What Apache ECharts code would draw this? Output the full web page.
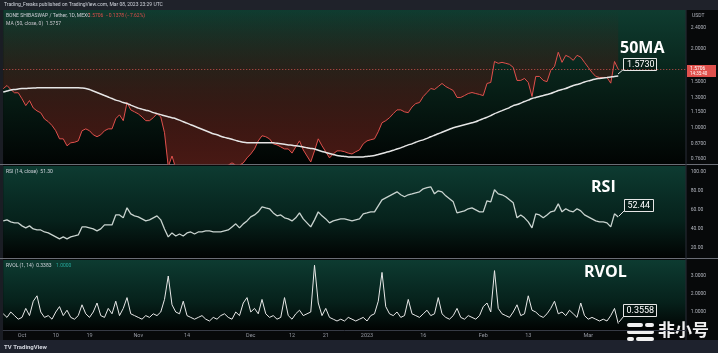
<!DOCTYPE html>
<html><head><meta charset="utf-8">
<script src="https://cdn.jsdelivr.net/npm/echarts@6/dist/echarts.min.js"></script>
<style>html,body{margin:0;padding:0;background:#07090a;}#c{width:718px;height:353px;}</style>
</head><body><div id="c"></div>
<script>
// ---- data ----
const startDate = '2022-09-26';
const dayCount = 183;           // axis runs to late March, data stops at the last bar
const dateLabels = {'2022-10-01':'Oct','2022-10-10':'10','2022-10-19':'19','2022-11-01':'Nov','2022-11-14':'14',
  '2022-12-01':'Dec','2022-12-12':'12','2022-12-21':'21','2023-01-01':'2023','2023-01-16':'16',
  '2023-02-01':'Feb','2023-02-13':'13','2023-03-01':'Mar'};
const price = [1.41,1.45,1.40,1.36,1.36,1.29,1.215,1.27,1.19,1.16,
1.14,1.08,1.055,1.02,0.974,0.907,0.907,0.853,0.876,0.88,
0.891,0.974,0.99,0.974,0.94,0.924,0.94,0.974,0.99,0.99,
1.083,1.12,1.064,1.248,1.17,1.15,1.13,1.10,1.064,1.064,
1.092,1.132,1.10,0.957,0.71,0.78,0.70,0.69,0.70,0.70,
0.69,0.68,0.69,0.70,0.69,0.70,0.71,0.70,0.71,0.71,
0.72,0.734,0.72,0.72,0.734,0.767,0.794,0.83,0.891,0.932,
0.924,0.907,0.868,0.86,0.845,0.83,0.83,0.80,0.845,0.891,
0.823,0.78,0.74,0.816,0.907,0.853,0.81,0.767,0.794,0.816,
0.816,0.81,0.80,0.794,0.81,0.823,0.868,0.891,0.90,0.907,
0.966,1.045,1.064,1.092,1.132,1.17,1.17,1.15,1.142,1.20,
1.237,1.248,1.316,1.363,1.412,1.40,1.437,1.476,1.437,1.412,
1.387,1.305,1.305,1.327,1.351,1.363,1.351,1.34,1.327,1.476,
1.489,1.79,1.762,1.777,1.762,1.746,1.70,1.516,1.516,1.543,
1.489,1.316,1.57,1.57,1.516,1.50,1.656,1.715,1.942,1.777,
1.89,1.86,1.809,1.89,1.86,1.777,1.70,1.627,1.57,1.556,
1.556,1.556,1.48,1.79,1.67];
const ma50 = [1.369,1.381,1.393,1.40,1.406,1.412,1.412,1.416,1.419,1.42,
1.421,1.422,1.422,1.422,1.422,1.422,1.422,1.422,1.422,1.422,
1.422,1.418,1.412,1.40,1.381,1.363,1.345,1.327,1.31,1.293,
1.275,1.264,1.248,1.237,1.22,1.204,1.188,1.178,1.167,1.157,
1.142,1.132,1.122,1.112,1.102,1.092,1.083,1.069,1.054,1.041,
1.027,1.013,1.0,0.987,0.974,0.961,0.948,0.94,0.928,0.919,
0.911,0.903,0.895,0.887,0.88,0.876,0.876,0.876,0.876,0.876,
0.876,0.876,0.876,0.872,0.868,0.864,0.86,0.857,0.853,0.849,
0.845,0.838,0.834,0.83,0.82,0.812,0.805,0.798,0.791,0.784,
0.78,0.777,0.774,0.774,0.774,0.774,0.774,0.777,0.78,0.784,
0.791,0.798,0.805,0.812,0.82,0.83,0.838,0.849,0.86,0.868,
0.88,0.891,0.899,0.911,0.924,0.936,0.948,0.961,0.974,0.987,
1.0,1.009,1.018,1.027,1.036,1.045,1.054,1.069,1.083,1.097,
1.112,1.132,1.147,1.162,1.178,1.194,1.215,1.226,1.242,1.259,
1.275,1.293,1.304,1.316,1.327,1.339,1.351,1.369,1.387,1.40,
1.412,1.431,1.45,1.463,1.476,1.496,1.51,1.523,1.536,1.543,
1.55,1.556,1.563,1.57,1.575];
const rsi = [48.4,49.5,47.4,46.3,46.3,43.2,41.1,43.2,40,38.9,
38.9,36.8,35.8,33.7,31.6,29.5,31.6,29.5,31.6,32.6,
33.7,42.1,42.1,41.1,40,37.9,40,44.2,44.2,44.2,
54.7,54.7,51.6,62.1,55.8,53.7,52.6,50.5,48.4,49.5,
51.6,53.7,49.5,40,31.6,35.8,32.6,34.7,32.6,35.8,
36.8,34.7,36.8,36.8,37.9,37.9,36.8,36.8,36.8,37.9,
38.9,42.1,45.3,41.1,45.3,48.4,52.6,54.7,57.9,63.2,
62.1,61.1,56.8,53.7,54.7,51.6,50.5,48.4,51.6,56.8,
50.5,46.3,42.1,49.5,57.9,53.7,50.5,46.3,48.4,49.5,
50.5,50.5,49.5,48.4,49.5,50.5,55.8,56.8,57.9,57.9,
64.2,70.5,72.6,74.7,76.8,78.9,75.8,73.7,75.8,76.8,
77.9,78.9,82.1,83.2,84.2,76.8,80,78.9,74.7,71.6,
68.4,56.8,57.9,58.9,61.1,62.1,60,57.9,57.9,69.5,
68.4,81.1,76.8,75.8,73.7,70.5,67.4,51.6,54.7,51.6,
47.4,41.1,55.8,54.7,51.6,54.7,57.9,58.9,66.3,57.9,
61.1,58.9,57.9,61.1,58.9,54.7,52.6,50.5,48.4,47.4,
47.4,46.3,42.1,55.8,52.44];
const rvol = [0.9,0.7,1.0,0.8,0.6,0.7,1.2,0.8,1.6,1.9,
1.0,0.7,0.8,0.6,1.0,1.3,0.8,1.1,0.7,0.6,
0.8,1.4,0.9,0.7,1.0,1.5,0.8,0.7,1.2,0.9,
1.6,0.8,1.2,1.8,0.9,0.8,0.7,0.6,0.8,0.7,
0.9,0.8,1.0,1.7,3.0,1.4,1.0,0.9,1.6,0.8,
0.7,0.6,0.7,0.8,0.6,0.5,0.7,0.6,0.8,0.9,
0.7,0.6,1.0,0.8,1.5,1.8,1.0,1.2,0.9,1.7,
0.9,0.7,0.8,0.6,0.7,1.8,0.8,0.6,0.9,1.1,
0.8,0.9,1.0,3.6,1.5,0.8,1.2,0.7,0.6,0.5,
0.6,0.5,0.7,0.6,0.5,0.6,0.7,0.5,0.8,0.9,
1.6,3.2,1.3,0.9,0.8,1.0,0.7,0.8,1.7,0.9,
0.8,0.7,0.9,1.1,0.8,0.9,1.8,0.9,0.7,0.6,
0.8,1.2,0.7,0.6,0.8,0.7,0.6,0.8,1.3,1.5,
1.0,3.3,1.2,0.9,0.8,0.7,1.0,1.4,0.8,0.9,
1.9,1.1,1.0,0.8,0.7,0.9,1.2,1.6,0.9,1.0,
0.8,1.1,0.9,0.7,1.5,0.8,0.6,0.7,0.6,0.5,
0.6,0.5,0.8,1.2,0.3558];
const priceTicks = [2.4, 2.0, 1.5, 1.3, 1.15, 1.0, 0.87, 0.76];
const rsiTicks = [20, 40, 60, 80, 100];
const rvolTicks = [1, 2, 3];

// ---- build ----
function buildDates(){
  const out = []; const d0 = new Date(startDate + 'T00:00:00Z');
  for (let i = 0; i < dayCount; i++) {
    const d = new Date(d0.getTime() + i * 86400000);
    out.push(d.toISOString().slice(0, 10));
  }
  return out;
}
const dates = buildDates();
const FONT = 'Roboto, "Noto Sans", sans-serif';
const grad = (stops) => ({type:'linear', x:0, y:0, x2:0, y2:1, colorStops: stops.map(s => ({offset:s[0], color:s[1]}))});

const gridCommon = {left: 3.25, right: 32.25, show: true, borderWidth: 0};
const xCommon = {type:'category', data: dates, boundaryGap:false, axisTick:{show:false}, splitLine:{show:false}};

const chart = echarts.init(document.getElementById('c'), null, {renderer:'canvas'});
const lastPrice = price[price.length - 1];

chart.setOption({
  backgroundColor: '#07090a',
  animation: false,
  grid: [
    Object.assign({top: 10, height: 154, backgroundColor: grad([[0,'#0f3c30'],[0.45,'#082219'],[1,'#010403']])}, gridCommon),
    Object.assign({top: 166, height: 92, backgroundColor: grad([[0,'#0d3b31'],[0.6,'#06211b'],[1,'#010302']])}, gridCommon),
    Object.assign({top: 260, height: 70, backgroundColor: grad([[0,'#0d3b31'],[0.6,'#06211b'],[1,'#010302']])}, gridCommon)
  ],
  xAxis: [
    Object.assign({gridIndex:0, axisLine:{show:false}, axisLabel:{show:false}}, xCommon),
    Object.assign({gridIndex:1, axisLine:{show:false}, axisLabel:{show:false}}, xCommon),
    Object.assign({gridIndex:2, axisLine:{show:true, lineStyle:{color:'#363a45'}},
      axisLabel:{show:true, color:'#9598a1', fontSize:5.5, fontFamily:FONT, margin:3,
        interval: (idx, val) => dateLabels[val] !== undefined,
        formatter: (v) => dateLabels[v] || ''}}, xCommon)
  ],
  yAxis: [
    {type:'log', gridIndex:0, position:'right', min:0.727, max:2.816, logBase:10,
      axisLine:{show:false}, axisTick:{show:false}, splitLine:{show:false},
      axisLabel:{show:true, customValues: priceTicks, color:'#b2b5be', fontSize:5, fontFamily:FONT, margin:5,
        formatter: v => Number(v).toFixed(4)}},
    {type:'value', gridIndex:1, position:'right', min:9.5, max:106,
      axisLine:{show:false}, axisTick:{show:false}, splitLine:{show:false},
      axisLabel:{show:true, customValues: rsiTicks, color:'#b2b5be', fontSize:5, fontFamily:FONT, margin:5,
        formatter: v => Number(v).toFixed(2)}},
    {type:'value', gridIndex:2, position:'right', min:0, max:3.89,
      axisLine:{show:false}, axisTick:{show:false}, splitLine:{show:false},
      axisLabel:{show:true, customValues: rvolTicks, color:'#b2b5be', fontSize:5, fontFamily:FONT, margin:5,
        formatter: v => Number(v).toFixed(4)}}
  ],
  series: [
    {type:'line', name:'price', xAxisIndex:0, yAxisIndex:0, data: price, symbol:'none',
      lineStyle:{color:'#e0504c', width:1},
      areaStyle:{origin:'end', opacity:1, color:{type:'linear', global:true, x:0, y:10, x2:0, y2:164,
        colorStops:[{offset:0, color:'rgba(90,28,22,0)'},{offset:0.5, color:'rgba(80,26,21,0.55)'},{offset:1, color:'rgba(76,26,21,0.95)'}]}},
      markLine:{silent:true, symbol:'none', data:[{yAxis:lastPrice}], label:{show:false},
        lineStyle:{color:'#c8504c', type:[1,2], width:1}}},
    {type:'line', name:'MA50', xAxisIndex:0, yAxisIndex:0, data: ma50, symbol:'none', smooth:0.3,
      lineStyle:{color:'#e6e6e6', width:1.5}},
    {type:'line', name:'RSI', xAxisIndex:1, yAxisIndex:1, data: rsi, symbol:'none',
      lineStyle:{color:'#c9d3cf', width:1.3}},
    {type:'line', name:'RVOL', xAxisIndex:2, yAxisIndex:2, data: rvol, symbol:'none',
      lineStyle:{color:'#e8e8e8', width:1}}
  ],
  graphic: [
    {type:'rect', shape:{x:0,y:0,width:718,height:10}, style:{fill:'#1f222a'}},
    {type:'text', x:4, y:2.5, style:{text:'Trading_Freaks published on TradingView.com, Mar 08, 2023 23:29 UTC', fill:'#d1d4dc', fontSize:5, fontFamily:FONT}},
    {type:'rect', shape:{x:0,y:10,width:3,height:330}, style:{fill:'#1a1d24'}},
    {type:'rect', shape:{x:0,y:340,width:718,height:13}, style:{fill:'#1e222d'}},
    {type:'text', x:4, y:344, style:{text:'TV TradingView', fill:'#d1d4dc', fontSize:6, fontWeight:'bold', fontFamily:FONT}},
    {type:'line', shape:{x1:0,y1:164.5,x2:718,y2:164.5}, style:{stroke:'#6a6d75', lineWidth:1}},
    {type:'line', shape:{x1:0,y1:258.5,x2:718,y2:258.5}, style:{stroke:'#6a6d75', lineWidth:1}},
    {type:'line', shape:{x1:686,y1:10,x2:686,y2:340}, style:{stroke:'#2a2e39', lineWidth:1}},
    {type:'text', x:692, y:13, style:{text:'USDT', fill:'#b2b5be', fontSize:5, fontFamily:FONT}},
    // legends
    {type:'text', x:6, y:13, style:{text:'BONE SHIBASWAP / Tether, 1D, MEXC', fill:'#d1d4dc', fontSize:5, fontFamily:FONT}},
    {type:'text', x:88, y:13, style:{text:'1.5706  −0.1378 (−7.62%)', fill:'#e0504c', fontSize:5, fontFamily:FONT}},
    {type:'text', x:6, y:21, style:{text:'MA (50, close, 0)  1.5757', fill:'#d1d4dc', fontSize:5, fontFamily:FONT}},
    {type:'text', x:6, y:169, style:{text:'RSI (14, close)  51.30', fill:'#d1d4dc', fontSize:5, fontFamily:FONT}},
    {type:'text', x:6, y:263, style:{text:'RVOL (1, 14)  0.3383', fill:'#d1d4dc', fontSize:5, fontFamily:FONT}},
    {type:'text', x:56, y:263, style:{text:'1.0000', fill:'#26a69a', fontSize:5, fontFamily:FONT}},
    // last price tag
    {type:'rect', shape:{x:687,y:65,width:29,height:12}, style:{fill:'#e0504c'}},
    {type:'text', x:690, y:66, style:{text:'1.5706', fill:'#ffffff', fontSize:5, fontFamily:FONT}},
    {type:'text', x:690, y:71.5, style:{text:'14:35:40', fill:'#ffffff', fontSize:4.5, fontFamily:FONT}},
    // annotations
    {type:'text', x:620, y:40, style:{text:'50MA', fill:'#ffffff', fontSize:16, fontWeight:'bold', fontFamily:'"Open Sans", sans-serif'}},
    {type:'line', shape:{x1:618,y1:74,x2:624,y2:69}, style:{stroke:'#e6e6e6', lineWidth:1}},
    {type:'rect', shape:{x:623.5,y:58.5,width:33,height:12}, style:{fill:'rgba(0,0,0,0.2)', stroke:'#e6e6e6', lineWidth:1}},
    {type:'text', x:627, y:60, style:{text:'1.5730', fill:'#ffffff', fontSize:9, fontFamily:FONT}},
    {type:'text', x:591, y:179, style:{text:'RSI', fill:'#ffffff', fontSize:16, fontWeight:'bold', fontFamily:'"Open Sans", sans-serif'}},
    {type:'line', shape:{x1:619,y1:216,x2:625,y2:210}, style:{stroke:'#e6e6e6', lineWidth:1}},
    {type:'rect', shape:{x:624.5,y:199.5,width:29,height:12}, style:{fill:'rgba(0,0,0,0.2)', stroke:'#e6e6e6', lineWidth:1}},
    {type:'text', x:627.5, y:201, style:{text:'52.44', fill:'#ffffff', fontSize:9, fontFamily:FONT}},
    {type:'text', x:584, y:264, style:{text:'RVOL', fill:'#ffffff', fontSize:16, fontWeight:'bold', fontFamily:'"Open Sans", sans-serif'}},
    {type:'line', shape:{x1:619,y1:322,x2:624,y2:316}, style:{stroke:'#e6e6e6', lineWidth:1}},
    {type:'rect', shape:{x:623.5,y:304.5,width:33,height:12}, style:{fill:'rgba(0,0,0,0.2)', stroke:'#e6e6e6', lineWidth:1}},
    {type:'text', x:626.5, y:306, style:{text:'0.3558', fill:'#ffffff', fontSize:9, fontFamily:FONT}},
    // watermark
    {type:'rect', shape:{x:627,y:323,width:16,height:4,r:2}, style:{fill:'#f0f0f0'}},
    {type:'rect', shape:{x:645,y:323,width:9,height:4,r:2}, style:{fill:'#f0f0f0'}},
    {type:'rect', shape:{x:627,y:330,width:27,height:4,r:2}, style:{fill:'#f0f0f0'}},
    {type:'rect', shape:{x:627,y:337,width:7,height:4,r:2}, style:{fill:'#f0f0f0'}},
    {type:'rect', shape:{x:636,y:337,width:18,height:4,r:2}, style:{fill:'#f0f0f0'}},
    {type:'text', x:658, y:321, style:{text:'非小号', fill:'#f0f0f0', fontSize:17, fontWeight:'bold', fontFamily:'"Noto Sans CJK SC", sans-serif'}}
  ]
});
</script></body></html>
